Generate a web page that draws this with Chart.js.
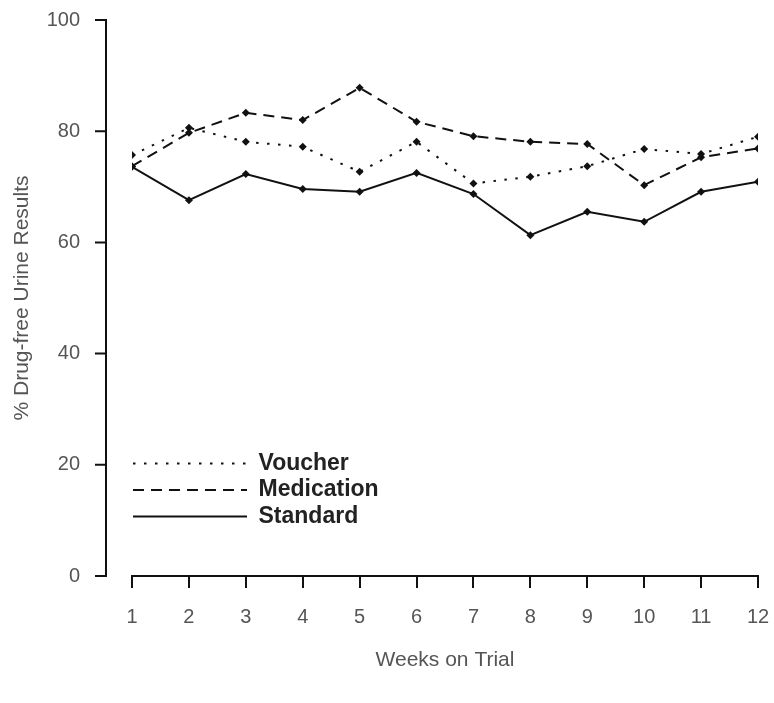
<!DOCTYPE html>
<html>
<head>
<meta charset="utf-8">
<script src="https://cdn.jsdelivr.net/npm/chart.js@4/dist/chart.umd.min.js"></script>
<style>
  html, body { margin: 0; padding: 0; background: #fff; }
  #wrap { width: 774px; height: 703px; }
</style>
</head>
<body>
<div id="wrap"><canvas id="myChart" width="774" height="703"></canvas></div>
<script>
var weeks = [1,2,3,4,5,6,7,8,9,10,11,12];
var voucher = [75.7,80.6,78.1,77.2,72.7,78.1,70.6,71.8,73.7,76.8,75.9,79.0];
var medication = [73.7,79.7,83.3,82.0,87.8,81.7,79.1,78.1,77.7,70.3,75.3,76.9];
var standard = [73.6,67.6,72.3,69.6,69.1,72.5,68.7,61.3,65.5,63.7,69.1,70.9];
var yTicks = [0,20,40,60,80,100];

function pts(vals) {
  return vals.map(function(v, i) { return {x: weeks[i], y: v}; });
}

// y axis sits apart from the plot, draw its line and ticks here
var yAxisLine = {
  id: 'yAxisLine',
  afterDraw: function(chart) {
    var y = chart.scales.y, c = chart.ctx, ax = 106;
    c.save();
    c.strokeStyle = '#111';
    c.lineWidth = 2;
    c.beginPath();
    c.moveTo(ax, y.getPixelForValue(100) - 1);
    c.lineTo(ax, y.getPixelForValue(0) + 1);
    yTicks.forEach(function(t) {
      var py = y.getPixelForValue(t);
      c.moveTo(95, py);
      c.lineTo(ax, py);
    });
    c.stroke();
    c.restore();
  }
};

// move the legend into the lower left of the plot
var legendSpot = {
  id: 'legendSpot',
  afterLayout: function(chart) {
    var lg = chart.legend;
    var w = lg.width;
    lg.left = 129.5;
    lg.top = 448.5;
    lg.right = lg.left + w;
    lg.bottom = 576;
  }
};

var line = function(label, vals, dash, width) {
  return {
    label: label,
    data: pts(vals),
    borderColor: '#111',
    backgroundColor: '#111',
    borderWidth: width,
    borderDash: dash,
    pointStyle: 'rectRot',
    pointRadius: 4,
    pointBorderWidth: 0,
    tension: 0
  };
};

var ctx = document.getElementById('myChart');
var myChart = new Chart(ctx, {
  type: 'line',
  data: {
    datasets: [
      line('Voucher', voucher, [2.5, 8.5], 2),
      line('Medication', medication, [11, 7], 2),
      line('Standard', standard, [], 2)
    ]
  },
  options: {
    responsive: false,
    animation: false,
    layout: { padding: { top: 20, right: 16, bottom: 0, left: 0 } },
    plugins: {
      tooltip: { enabled: false },
      legend: {
        position: 'chartArea',
        fullSize: false,
        align: 'start',
        labels: {
          usePointStyle: true,
          pointStyleWidth: 114,
          padding: 3.5,
          color: '#222',
          font: { family: 'Liberation Sans, Arial, sans-serif', size: 23, weight: 'bold' },
          generateLabels: function(chart) {
            var items = Chart.defaults.plugins.legend.labels.generateLabels(chart);
            items.forEach(function(it) {
              var ds = chart.data.datasets[it.datasetIndex];
              it.pointStyle = 'line';
              it.lineWidth = ds.borderWidth;
              it.lineDash = ds.borderDash;
              it.strokeStyle = ds.borderColor;
            });
            return items;
          }
        }
      }
    },
    scales: {
      x: {
        type: 'linear',
        min: 1,
        max: 12,
        afterBuildTicks: function(s) { s.ticks = weeks.map(function(v) { return {value: v}; }); },
        afterFit: function(s) { s.height = 127; s.paddingLeft = 0; s.paddingRight = 0; },
        border: { display: true, color: '#111', width: 2 },
        grid: { drawOnChartArea: false, drawTicks: true, tickLength: 12, color: '#111', lineWidth: 2 },
        ticks: {
          padding: 17,
          color: '#555',
          maxRotation: 0,
          autoSkip: false,
          font: { family: 'Liberation Sans, Arial, sans-serif', size: 20 }
        },
        title: {
          display: true,
          text: 'Weeks on Trial',
          color: '#555',
          padding: { top: 10, bottom: 30 },
          font: { family: 'Liberation Sans, Arial, sans-serif', size: 21 }
        }
      },
      y: {
        min: 0,
        max: 100,
        afterBuildTicks: function(s) { s.ticks = yTicks.map(function(v) { return {value: v}; }); },
        afterFit: function(s) { s.width = 132; s.paddingTop = 0; s.paddingBottom = 0; },
        border: { display: false },
        grid: { display: false, drawTicks: false },
        ticks: {
          padding: 52,
          color: '#555',
          font: { family: 'Liberation Sans, Arial, sans-serif', size: 20 }
        },
        title: {
          display: true,
          text: '% Drug-free Urine Results',
          color: '#555',
          padding: { top: 10, bottom: 10 },
          font: { family: 'Liberation Sans, Arial, sans-serif', size: 21 }
        }
      }
    }
  },
  plugins: [yAxisLine, legendSpot]
});
</script>
</body>
</html>
